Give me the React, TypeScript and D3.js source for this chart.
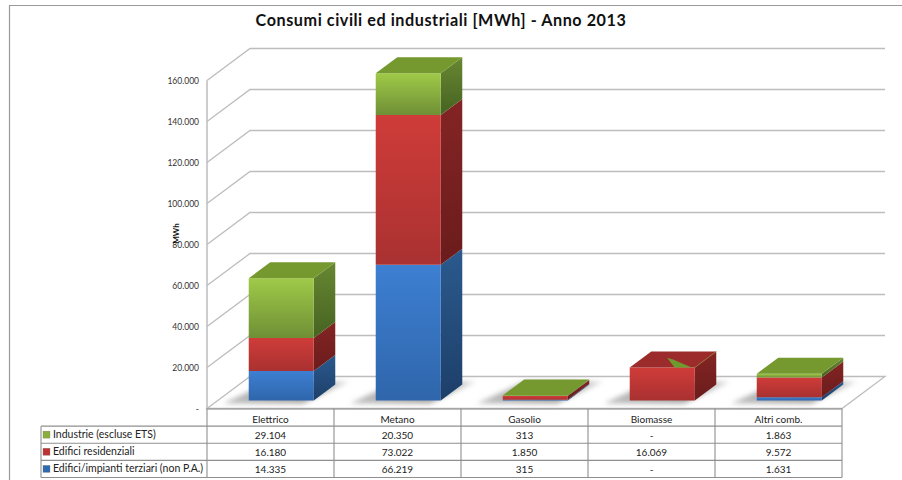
import React from 'react';
import * as d3 from 'd3';

const categories = ['Elettrico', 'Metano', 'Gasolio', 'Biomasse', 'Altri comb.'];
const seriesNames = ['Edifici/impianti terziari (non P.A.)', 'Edifici residenziali', 'Industrie (escluse  ETS)'];
const terziari = [14335, 66219, 315, 0, 1631];
const residenziali = [16180, 73022, 1850, 16069, 9572];
const industrie = [29104, 20350, 313, 0, 1863];
const yTicks = [0, 20000, 40000, 60000, 80000, 100000, 120000, 140000, 160000];
const seriesValues = [terziari, residenziali, industrie];

const front = ['#3d7fd2', '#cf3c39', '#9fca48'];
const frontDark = ['#2f66ab', '#a93131', '#6f8f36'];
const side = ['#2b5a8e', '#842424', '#678732'];
const sideDark = ['#1d3f69', '#6b1c1c', '#476321'];
const topFace = ['#33689f', '#9c2b2b', '#76992f'];
const legendColor = ['#2f69ae', '#bb3332', '#8aae3c'];

const fontFamily = 'Lato, "Open Sans", sans-serif';
const gridColor = '#bdbdbd';
const tableColor = '#8f8f8f';

const left = 207;
const right = 842;
const depthX = 43;
const depthY = -32;

const x = d3.scaleBand().domain(categories).range([left, right]);
const y = d3.scaleLinear().domain([0, 160000]).range([408.5, 80.5]);

// depth: 0 = front of the floor, 1 = back wall
const project = (px: number, value: number, depth: number): [number, number] => [
  px + depthX * depth,
  y(value) + depthY * depth,
];
const poly = (pts: [number, number][]) => d3.line()(pts) + 'Z';
const fmt = (v: number) => (v === 0 ? '-' : d3.format(',')(v).replace(/,/g, '.'));

const stack = d3.stack<number>()
  .keys([0, 1, 2] as any)
  .value((i, k) => seriesValues[k as any][i])(categories.map((_, i) => i));

const rowY = d3.scaleBand<number>().domain([0, 1, 2, 3]).range([409, 477.5]);
const rows = [2, 1, 0];

export default function App() {
  const barW = x.bandwidth() * 0.512;
  const d0 = 0.25;
  const d1 = 0.75;

  return (
    <svg width={902} height={480} style={{ position: 'absolute', left: 0, top: 0, fontFamily }}>
      <defs>
        {front.map((c, i) => (
          <linearGradient key={i} id={`front${i}`} x1="0" y1="0" x2="0" y2="1">
            <stop offset="0" stopColor={c} />
            <stop offset="1" stopColor={frontDark[i]} />
          </linearGradient>
        ))}
        {side.map((c, i) => (
          <linearGradient key={i} id={`side${i}`} x1="0" y1="0" x2="0" y2="1">
            <stop offset="0" stopColor={c} />
            <stop offset="1" stopColor={sideDark[i]} />
          </linearGradient>
        ))}
        <linearGradient id="shadowFill" x1="0" y1="0" x2="1" y2="0">
          <stop offset="0" stopColor="#8a8a8a" stopOpacity={0.55} />
          <stop offset="0.7" stopColor="#8a8a8a" stopOpacity={0.8} />
          <stop offset="1" stopColor="#8a8a8a" stopOpacity={0.25} />
        </linearGradient>
        <filter id="shadow" x="-30%" y="-50%" width="160%" height="200%">
          <feGaussianBlur stdDeviation="2.5" />
        </filter>
      </defs>
      <rect width={902} height={480} fill="#fff" />
      <path d="M9.5 480V5.5H902" fill="none" stroke="#9a9a9a" strokeWidth={1.2} />

      <text x={441} y={26} textAnchor="middle" fontSize={16.2} fontWeight={700} letterSpacing={0.55} fill="#111">
        Consumi civili ed industriali [MWh] - Anno 2013
      </text>

      {yTicks.map((t) => (
        <g key={t}>
          {t > 0 && (
            <path
              d={d3.line()([project(left, t, 0), project(left, t, 1), project(right, t, 1)]) as string}
              fill="none"
              stroke={gridColor}
              strokeWidth={1.3}
            />
          )}
          <text x={199} y={y(t) + 3} textAnchor="end" fontSize={8.5} fill="#333">
            {fmt(t)}
          </text>
        </g>
      ))}
      <path
        d={poly([project(left, 0, 0), project(left, 0, 1), project(right, 0, 1), project(right, 0, 0)])}
        fill="none"
        stroke={gridColor}
        strokeWidth={1.3}
      />
      <line x1={left} x2={left} y1={y(160000)} y2={y(0)} stroke={gridColor} strokeWidth={1.5} />
      <text transform={`translate(179,${y(80000) - 11}) rotate(-90)`} textAnchor="middle" fontSize={8} fontWeight={700} fill="#111">
        MWh
      </text>

      {categories.map((c, i) => {
        const bx = (x(c) as number) + (x.bandwidth() - barW) / 2 + depthX * 0.25;
        const x0 = bx - depthX * d0;
        const x1 = x0 + barW;
        const segs = stack
          .map((s, k) => ({ k, lo: s[i][0], hi: s[i][1] }))
          .filter((s) => s.hi > s.lo);
        const topSeg = stack[2][i][1];
        // point on the top face: u across the bar, v towards the back
        const onTop = (u: number, v: number) => project(x0 + barW * u, topSeg, d0 + (d1 - d0) * v);
        return (
          <g key={c}>
            <path
              d={poly([
                [x0 - 15, y(0) - 5],
                [x1, y(0) - 5],
                [x1 + depthX * d1 + 14, y(0) + depthY * d1 - 3],
                [x0 + depthX * d1, y(0) + depthY * d1 - 3],
              ])}
              fill="url(#shadowFill)"
              filter="url(#shadow)"
            />
            {segs.map((s) => (
              <g key={s.k}>
                <path
                  d={poly([project(x1, s.lo, d0), project(x1, s.lo, d1), project(x1, s.hi, d1), project(x1, s.hi, d0)])}
                  fill={`url(#side${s.k})`}
                />
                <path
                  d={poly([project(x0, s.lo, d0), project(x1, s.lo, d0), project(x1, s.hi, d0), project(x0, s.hi, d0)])}
                  fill={`url(#front${s.k})`}
                />
              </g>
            ))}
            <path
              d={poly([onTop(0, 0), onTop(1, 0), onTop(1, 1), onTop(0, 1)])}
              fill={topFace[industrie[i] > 0 ? 2 : 1]}
            />
            {/* the zero-height green slab pokes through the red top */}
            {industrie[i] === 0 && (
              <>
                <path
                  d={poly([onTop(0.37, 0.62), onTop(0.5, 0.5), onTop(0.954, 0), onTop(0.69, 0)])}
                  fill="#6f9a2d"
                />
                <path
                  d={d3.line()([onTop(1, 0), onTop(1, 1)]) as string}
                  stroke="#8a7a2c"
                  strokeWidth={0.8}
                  fill="none"
                />
              </>
            )}
          </g>
        );
      })}

      {/* data table */}
      {categories.map((c) => (
        <text key={c} x={(x(c) as number) + x.bandwidth() / 2} y={(rowY(0) as number) + 13.5} textAnchor="middle" fontSize={10} fill="#222">
          {c}
        </text>
      ))}
      {rows.map((k, r) => {
        const ry = rowY(r + 1) as number;
        return (
          <g key={k}>
            <rect x={43} y={ry + 5} width={7} height={7} fill={legendColor[k]} stroke="#777" strokeWidth={0.3} />
            <text x={53} y={ry + 12} fontSize={10.5} fill="#222">
              {seriesNames[k]}
            </text>
            {categories.map((c, i) => (
              <text key={c} x={(x(c) as number) + x.bandwidth() / 2} y={ry + 13} textAnchor="middle" fontSize={10} fill="#222">
                {fmt(seriesValues[k][i])}
              </text>
            ))}
          </g>
        );
      })}
      {[0, 1, 2, 3, 4].map((r) => {
        const ry = r === 4 ? rowY.range()[1] : (rowY(r) as number);
        return <line key={r} x1={r === 0 ? left : 41} x2={right} y1={ry} y2={ry} stroke={tableColor} strokeWidth={1.1} />;
      })}
      <line x1={41} x2={41} y1={rowY(1) as number} y2={rowY.range()[1]} stroke={tableColor} strokeWidth={1.1} />
      {categories.map((c) => (
        <line key={c} x1={x(c) as number} x2={x(c) as number} y1={y(0)} y2={rowY.range()[1]} stroke={tableColor} strokeWidth={1.1} />
      ))}
      <line x1={right} x2={right} y1={y(0)} y2={rowY.range()[1]} stroke={tableColor} strokeWidth={1.1} />
    </svg>
  );
}
